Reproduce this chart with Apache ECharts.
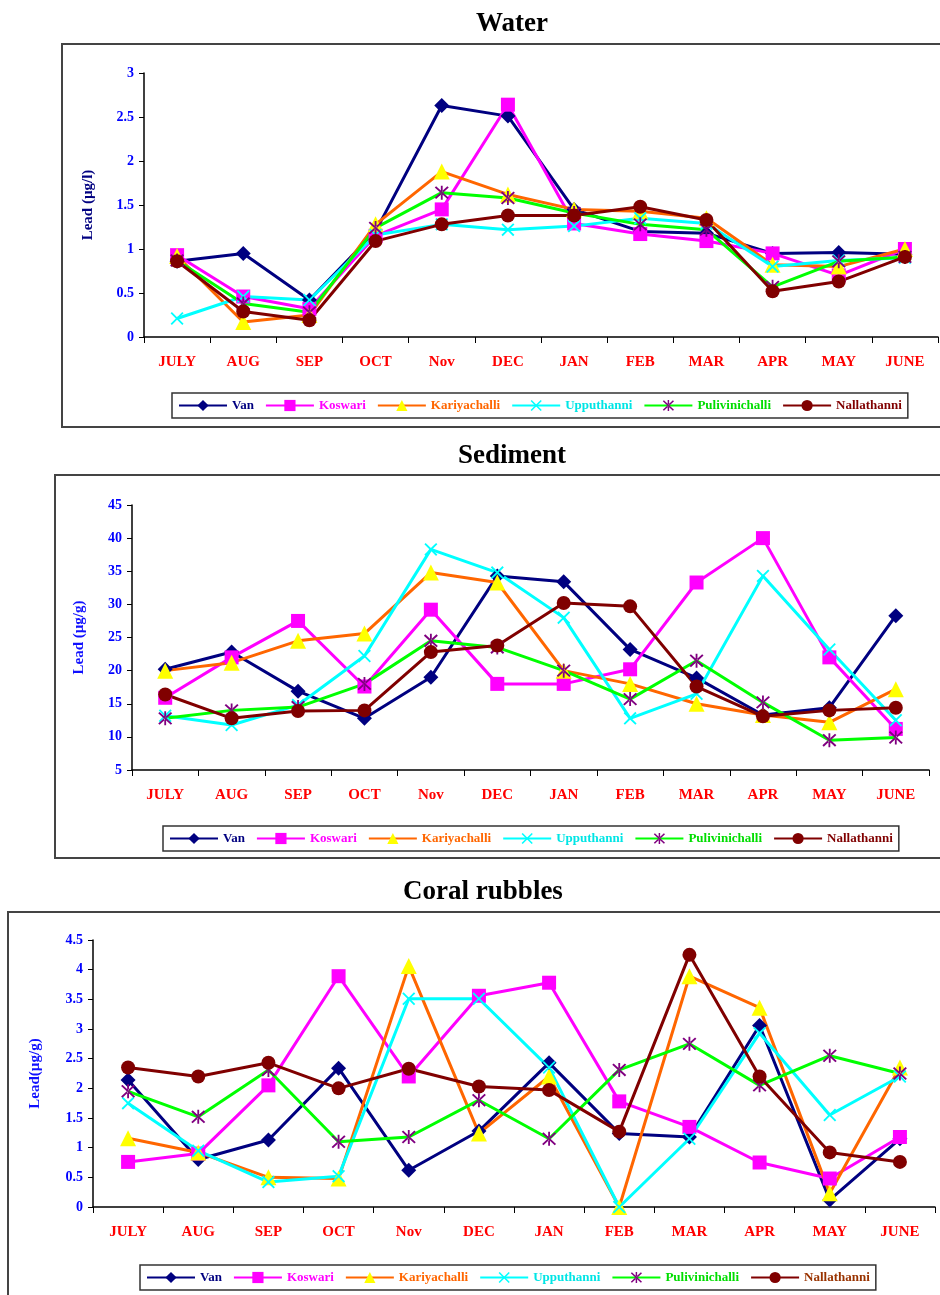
<!DOCTYPE html>
<html>
<head>
<meta charset="utf-8">
<script src="https://cdn.jsdelivr.net/npm/echarts@6/dist/echarts.min.js"></script>
<style>
  html, body { margin: 0; padding: 0; background: #fff; }
  #main { width: 940px; height: 1295px; }
</style>
</head>
<body>
<div id="main"></div>
<script>
// months on every x axis
var months = ["JULY", "AUG", "SEP", "OCT", "Nov", "DEC", "JAN", "FEB", "MAR", "APR", "MAY", "JUNE"];
var sites = ["Van", "Koswari", "Kariyachalli", "Upputhanni", "Pulivinichalli", "Nallathanni"];

// Water, lead (µg/l)
var waterVan = [0.86, 0.95, 0.42, 1.2, 2.63, 2.51, 1.45, 1.2, 1.18, 0.95, 0.96, 0.94];
var waterKoswari = [0.93, 0.46, 0.32, 1.15, 1.45, 2.64, 1.29, 1.17, 1.09, 0.95, 0.7, 1.0];
var waterKariyachalli = [0.92, 0.17, 0.25, 1.28, 1.88, 1.62, 1.45, 1.43, 1.35, 0.82, 0.8, 1.0];
var waterUpputhanni = [0.21, 0.46, 0.42, 1.16, 1.28, 1.22, 1.26, 1.35, 1.29, 0.8, 0.87, 0.9];
var waterPulivinichalli = [0.87, 0.38, 0.28, 1.24, 1.64, 1.58, 1.41, 1.28, 1.22, 0.57, 0.86, 0.91];
var waterNallathanni = [0.86, 0.29, 0.19, 1.09, 1.28, 1.38, 1.38, 1.48, 1.33, 0.52, 0.63, 0.91];

// Sediment, lead (µg/g)
var sedVan = [20.2, 22.8, 16.9, 12.8, 19.0, 34.3, 33.4, 23.2, 18.9, 13.3, 14.4, 28.3];
var sedKoswari = [15.9, 22.0, 27.5, 17.6, 29.2, 18.0, 18.0, 20.2, 33.3, 40.0, 22.0, 11.2];
var sedKariyachalli = [20.0, 21.2, 24.5, 25.6, 34.8, 33.3, 20.0, 18.0, 15.0, 13.3, 12.2, 17.2];
var sedUpputhanni = [13.2, 11.8, 14.8, 22.2, 38.3, 34.8, 28.0, 12.8, 16.5, 34.3, 23.2, 12.5];
var sedPulivinichalli = [12.8, 14.0, 14.5, 18.0, 24.5, 23.5, 20.0, 15.7, 21.5, 15.2, 9.5, 9.9];
var sedNallathanni = [16.4, 12.8, 13.9, 14.0, 22.8, 23.8, 30.2, 29.7, 17.6, 13.1, 14.0, 14.4];

// Coral rubbles, lead (µg/g)
var coralVan = [2.14, 0.8, 1.13, 2.34, 0.62, 1.28, 2.43, 1.24, 1.18, 3.06, 0.12, 1.15];
var coralKoswari = [0.76, 0.9, 2.05, 3.89, 2.2, 3.56, 3.78, 1.78, 1.35, 0.75, 0.48, 1.18];
var coralKariyachalli = [1.16, 0.92, 0.5, 0.48, 4.06, 1.24, 2.2, 0.0, 3.89, 3.36, 0.23, 2.35];
var coralUpputhanni = [1.75, 0.95, 0.42, 0.52, 3.51, 3.51, 2.35, 0.0, 1.15, 2.93, 1.55, 2.2];
var coralPulivinichalli = [1.95, 1.52, 2.31, 1.1, 1.18, 1.8, 1.15, 2.31, 2.75, 2.05, 2.55, 2.25];
var coralNallathanni = [2.35, 2.2, 2.43, 2.0, 2.33, 2.03, 1.97, 1.27, 4.25, 2.2, 0.92, 0.76];

var FONT = "Liberation Serif";
var xMark = "path://M0,1 L1,0 L5,4 L9,0 L10,1 L6,5 L10,9 L9,10 L5,6 L1,10 L0,9 L4,5 Z";
var starMark = "path://M4.4,0 H5.6 V10 H4.4 Z M0.4,1.3 L1.3,0.4 L9.6,8.7 L8.7,9.6 Z M9.6,1.3 L8.7,0.4 L0.4,8.7 L1.3,9.6 Z";

// look of each site: line colour, marker colour, marker shape, legend text colour
var looks = [
  { line: "#000080", mark: "#000080", symbol: "diamond", size: 15, text: "#000080" },
  { line: "#ff00ff", mark: "#ff00ff", symbol: "rect", size: 14, text: "#ff00ff" },
  { line: "#ff6600", mark: "#ffff00", symbol: "triangle", size: 16, text: "#ff6600" },
  { line: "#00ffff", mark: "#00ffff", symbol: xMark, size: 13, text: "#00e5e5" },
  { line: "#00ff00", mark: "#800080", symbol: starMark, size: 14, text: "#00dd00" },
  { line: "#800000", mark: "#800000", symbol: "circle", size: 14, text: "#800000" }
];

var panels = [
  { title: "Water", titleX: 507, titleY: 6, left: 144, right: 2, top: 73, height: 264,
    min: 0, max: 3, step: 0.5, yName: "Lead (µg/l)", yNameColor: "#000080", nameGap: 48,
    legendLeft: 172, legendTop: 393, lastText: "#800000",
    data: [waterVan, waterKoswari, waterKariyachalli, waterUpputhanni, waterPulivinichalli, waterNallathanni] },
  { title: "Sediment", titleX: 507, titleY: 438, left: 132, right: 11, top: 505, height: 265,
    min: 5, max: 45, step: 5, yName: "Lead (µg/g)", yNameColor: "#1010ff", nameGap: 45,
    legendLeft: 163, legendTop: 826, lastText: "#800000",
    data: [sedVan, sedKoswari, sedKariyachalli, sedUpputhanni, sedPulivinichalli, sedNallathanni] },
  { title: "Coral rubbles", titleX: 478, titleY: 874, left: 93, right: 5, top: 940, height: 267,
    min: 0, max: 4.5, step: 0.5, yName: "Lead(µg/g)", yNameColor: "#1010ff", nameGap: 50,
    legendLeft: 140, legendTop: 1265, lastText: "#993300",
    data: [coralVan, coralKoswari, coralKariyachalli, coralUpputhanni, coralPulivinichalli, coralNallathanni] }
];

var option = {
  animation: false,
  backgroundColor: "#fff",
  title: [], legend: [], grid: [], xAxis: [], yAxis: [], series: [],
  graphic: [
    { type: "rect", shape: { x: 62, y: 44, width: 884, height: 383 }, style: { fill: "none", stroke: "#444", lineWidth: 2 } },
    { type: "rect", shape: { x: 55, y: 475, width: 891, height: 383 }, style: { fill: "none", stroke: "#444", lineWidth: 2 } },
    { type: "rect", shape: { x: 8, y: 912, width: 938, height: 390 }, style: { fill: "none", stroke: "#444", lineWidth: 2 } }
  ]
};

panels.forEach(function (p, i) {
  option.title.push({
    text: p.title, left: p.titleX, top: p.titleY, textAlign: "center",
    textStyle: { fontFamily: FONT, fontWeight: "bold", fontSize: 27, color: "#000" }
  });
  option.grid.push({ left: p.left, right: p.right, top: p.top, height: p.height });
  option.xAxis.push({
    type: "category", gridIndex: i, data: months, boundaryGap: true,
    axisLine: { lineStyle: { color: "#000", width: 1.5 } },
    axisTick: { show: true, length: 6, lineStyle: { color: "#000" } },
    axisLabel: { color: "#ff0000", fontFamily: FONT, fontWeight: "bold", fontSize: 15, margin: 18 }
  });
  option.yAxis.push({
    type: "value", gridIndex: i, min: p.min, max: p.max, interval: p.step,
    name: p.yName, nameLocation: "middle", nameGap: p.nameGap, nameRotate: 90,
    nameTextStyle: { color: p.yNameColor, fontFamily: FONT, fontWeight: "bold", fontSize: 15 },
    axisLine: { show: true, lineStyle: { color: "#000", width: 1.5 } },
    axisTick: { show: true, length: 5, lineStyle: { color: "#000" } },
    splitLine: { show: false },
    axisLabel: { color: "#0000ff", fontFamily: FONT, fontWeight: "bold", fontSize: 14, margin: 10 }
  });
  option.legend.push({
    left: p.legendLeft, top: p.legendTop, orient: "horizontal",
    borderColor: "#333", borderWidth: 1.5, padding: [6, 6, 6, 6],
    itemGap: 11, itemWidth: 48, itemHeight: 14,
    textStyle: { fontFamily: FONT, fontWeight: "bold", fontSize: 13 },
    data: sites.map(function (s, k) {
      return { name: s, textStyle: { color: k === 5 ? p.lastText : looks[k].text } };
    })
  });
  sites.forEach(function (s, k) {
    var lk = looks[k];
    option.series.push({
      name: s, type: "line", xAxisIndex: i, yAxisIndex: i,
      data: p.data[k],
      symbol: lk.symbol, symbolSize: lk.size, showAllSymbol: true,
      lineStyle: { color: lk.line, width: 3 },
      itemStyle: { color: lk.mark },
      legendIndex: i
    });
  });
});

// each legend lists the same six names, so legends are tied to grids by order
var chart = echarts.init(document.getElementById("main"));
chart.setOption(option);
</script>
</body>
</html>
